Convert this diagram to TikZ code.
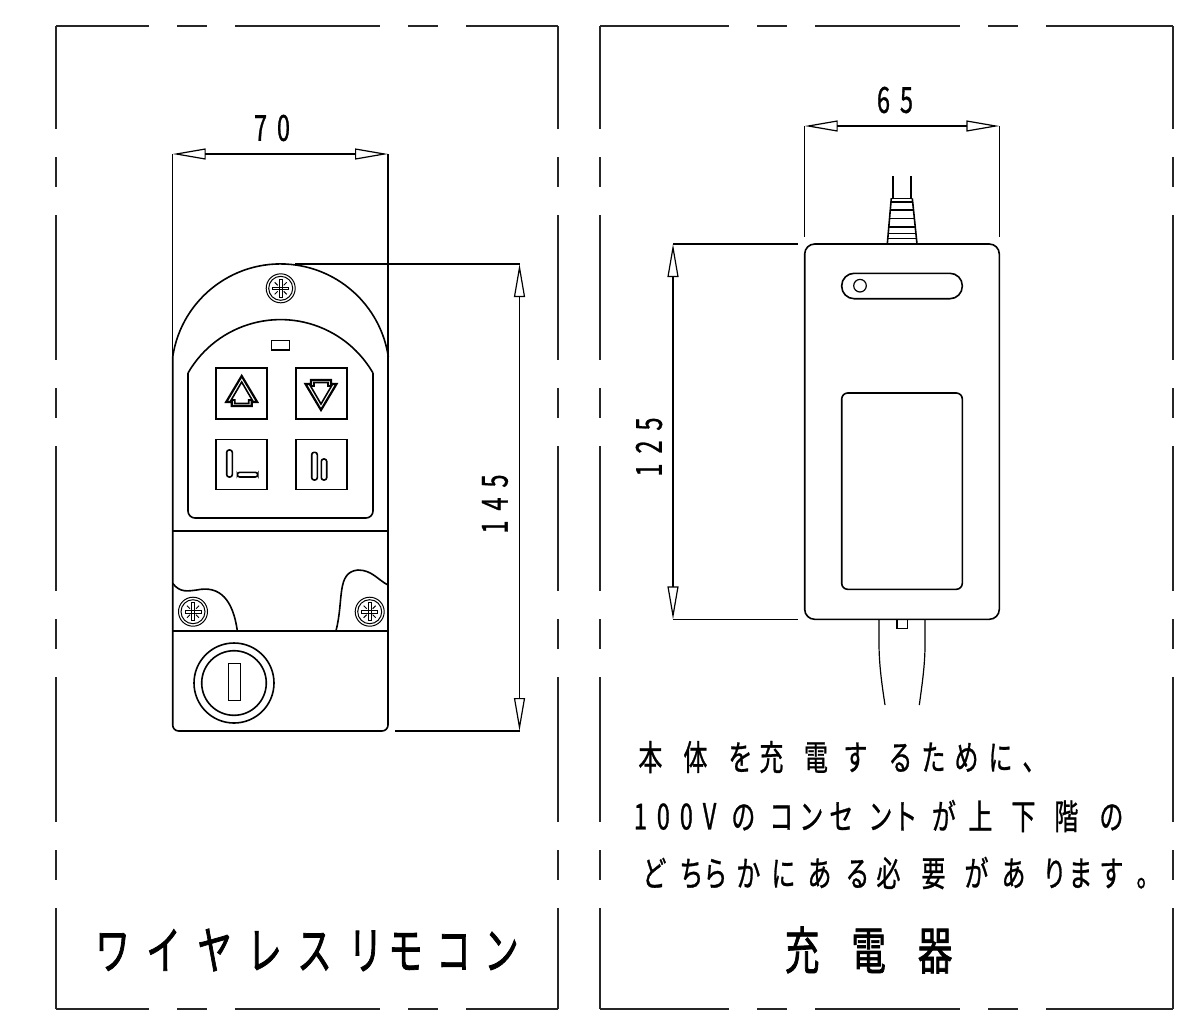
\documentclass[tikz,border=0pt]{standalone}
\usepackage{fontspec}
\usepackage{xcolor}
\usetikzlibrary{arrows.meta}
\newfontfamily\cjk[FakeStretch=.686,FakeBold=0.8]{Noto Sans CJK JP}
\newfontfamily\cjktitle[FakeStretch=.676,FakeBold=1.4]{Noto Sans CJK JP}
\newfontfamily\dimfont[FakeStretch=.65,FakeBold=0.8]{Noto Sans CJK JP}
\newcommand{\kk}[1]{\kern #1\dimexpr 0.5pt\relax}
\tikzset{
	frameline/.style={line width=0.95pt,color=black!85,dash pattern=on 72.5pt off 14pt on 15pt off 14pt},
	bodyline/.style={line width=0.8pt},
	thinline/.style={line width=0.6pt},
	dimarrow/.style={line width=0.6pt,{Triangle[open,length=16.5pt,width=5.5pt]}-{Triangle[open,length=16.5pt,width=5.5pt]}},
	dimtext/.style={font=\dimfont\fontsize{18}{18}\selectfont,inner sep=0pt},
	notetext/.style={font=\cjk\fontsize{17.5}{17.5}\selectfont,inner sep=0pt,anchor=west},
	titletext/.style={font=\cjktitle\fontsize{25.5}{25.5}\selectfont,inner sep=0pt,anchor=west},
}
% cross-head screw
\newcommand{\screwmark}[2]{
	\begin{scope}[shift={(#1,#2)},line width=0.5pt]
		\draw (0,0) circle[radius=14.5];
		\draw (0,0) circle[radius=12];
		\draw (-1.3,-9) rectangle (1.3,9);
		\draw (-8,-1.3) rectangle (8,1.3);
		\draw (-6,-6) -- (-3,-3) (6,-6) -- (3,-3) (-6,6) -- (-3,3) (6,6) -- (3,3);
	\end{scope}
}
% arrow on a button, #3 = 1 up, -1 down
\newcommand{\arrowmark}[3]{
	\begin{scope}[shift={(#1,#2)},yscale=#3,line width=1.1pt]
		\draw (0,-17) -- (15.5,9) -- (10,9) -- (10,13) -- (-10,13) -- (-10,9) -- (-15.5,9) -- cycle;
		\draw[bodyline] (0,-11) -- (10.5,7) -- (7,7) -- (7,10.5) -- (-7,10.5) -- (-7,7) -- (-10.5,7) -- cycle;
	\end{scope}
}
\begin{document}
\begin{tikzpicture}[x=0.5pt,y=-0.5pt]
	\useasboundingbox (0,0) rectangle (1177,1013);
	% frames
	\foreach \xa/\xb/\ph in {56/558/26pt,600/1173/8pt}{
		\draw[frameline,dash phase=\ph] (\xa,26) -- (\xb,26);
		\draw[frameline,dash phase=\ph] (\xa,1009) -- (\xb,1009);
		\draw[frameline,dash phase=21pt] (\xa,26) -- (\xa,1009);
		\draw[frameline,dash phase=21pt] (\xb,26) -- (\xb,1009);
	}
	% remote
	\draw[bodyline] (172.7,357) arc[start angle=-171.6,end angle=-8.4,radius=109];
	\draw[bodyline,rounded corners=3pt] (172.7,357) -- (172.7,731) -- (388,731) -- (388,357);
	\draw[bodyline] (172.7,531) -- (388,531);
	\draw[bodyline] (172.7,631) -- (388,631);
	\draw[bodyline,rounded corners=3.5pt] (188,373) -- (188,518) -- (373,518) -- (373,373);
	\draw[bodyline] (188,373) arc[start angle=-150,end angle=-30,radius=106.8];
	\draw[thinline] (271.7,340.7) rectangle (289.3,350);
	\draw[bodyline] (215.7,368) rectangle (266.7,419);
	\draw[bodyline] (296,368) rectangle (346.7,419);
	\draw[bodyline] (215.7,439.3) rectangle (266.7,489.3);
	\draw[bodyline] (296,439.3) rectangle (346.7,489.3);
	\arrowmark{241.7}{393}{1}
	\arrowmark{321}{393}{-1}
	\draw[bodyline,rounded corners=1.2pt] (226.7,450) rectangle (232.3,477);
	\draw[bodyline,rounded corners=1.2pt] (237.3,472.3) rectangle (257.7,477);
	\draw[bodyline,rounded corners=1.2pt] (311.7,452.3) rectangle (317.3,480);
	\draw[bodyline,rounded corners=1.2pt] (321.3,459) rectangle (326.7,480);
	\screwmark{280.7}{288.3}
	\screwmark{193}{611.7}
	\screwmark{369.7}{611.7}
	\draw[bodyline] (172.7,583.3) .. controls (180,593) and (188,591) .. (196.7,590) .. controls (220,585) and (233,600) .. (237.3,630.7);
	\draw[bodyline] (336,630.7) .. controls (344,600) and (336,572) .. (358,570) .. controls (372,570) and (378,580) .. (388,585);
	\draw[bodyline] (234,683) circle[radius=40];
	\draw[bodyline] (234,683) circle[radius=32.3];
	\draw[thinline] (228.7,663.3) rectangle (240.7,700.7);
	% dimensions of the remote
	\coordinate (w70a) at (172.7,154);
	\coordinate (w70b) at (388,154);
	\coordinate (h145a) at (519.5,264);
	\coordinate (h145b) at (519.5,731);
	\draw[thinline] (w70a) -- (172.7,357);
	\draw[thinline] (w70b) -- (388,357);
	\draw[thinline] (295,264) -- (h145a);
	\draw[thinline] (395,731) -- (h145b);
	\draw[dimarrow] (w70a) -- (w70b);
	\draw[dimarrow] (h145a) -- (h145b);
	\node[dimtext] (label70) at (272,128) {7\kk{10}0};
	\node[dimtext,rotate=90] (label145) at (495,504) {1\kk{10}4\kk{10}5};
	% charger
	\draw[bodyline] (892.7,176) -- (892.7,199);
	\draw[bodyline] (911,176) -- (911,199);
	\draw[bodyline] (891.3,198.3) -- (887.3,244);
	\draw[bodyline] (912.3,198.3) -- (917,244);
	\foreach \yy/\xl/\xr in {198.3/891.3/912.3,201.7/891/912.6,210/890.3/913.4,218.3/889.6/914.2,226.7/888.9/915,233.3/888.2/915.8,238.3/887.8/916.4}{
		\draw[bodyline] (\xl,\yy) -- (\xr,\yy);
	}
	\draw[bodyline,rounded corners=5pt] (804.7,244) rectangle (999.3,619.3);
	\draw[bodyline,rounded corners=3pt] (841.7,393) rectangle (962.3,589.3);
	\draw[bodyline,rounded corners=6.2pt] (841.7,273.3) rectangle (962.3,298.7);
	\draw[thinline] (860,285.7) circle[radius=6.3];
	\draw[thinline] (897,619.3) rectangle (907.3,628.3);
	\draw[thinline] (879,619.3) -- (879,643) .. controls (879,665) and (882,685) .. (885,705);
	\draw[thinline] (925,619.3) -- (925,645) .. controls (925,665) and (922,685) .. (919.3,705);
	% dimensions of the charger
	\coordinate (w65a) at (804.7,126);
	\coordinate (w65b) at (999.3,126);
	\coordinate (h125a) at (673,244);
	\coordinate (h125b) at (673,619.3);
	\draw[thinline] (w65a) -- (804.7,237);
	\draw[thinline] (w65b) -- (999.3,237);
	\draw[thinline] (h125a) -- (798,244);
	\draw[thinline] (h125b) -- (798,619.3);
	\draw[dimarrow] (w65a) -- (w65b);
	\draw[dimarrow] (h125a) -- (h125b);
	\node[dimtext] (label65) at (895,100) {6\kk{10}5};
	\node[dimtext,rotate=90] (label125) at (649,447) {1\kk{10}2\kk{10}5};
	% notes and titles
	\node[notetext] (note1) at (638,757) {本\kk{21}体\kk{21}を\kk{7}充\kk{20.5}電\kk{15.5}す\kk{21}る\kk{9}た\kk{9}め\kk{10}に\kk{10}、};
	\node[notetext] (note2) at (633.5,816) {{\dimfont\fontsize{18}{18}\selectfont 1\kk{10}0\kk{10}0\kk{10}V}\kk{15}の\kk{14}コ\kk{6}ン\kk{6}セ\kk{15}ン\kk{1}ト\kk{14.5}が\kk{12.5}上\kk{19}下\kk{19}階\kk{21}の};
	\node[notetext] (note3) at (642,873) {ど\kk{13}ち\kk{0}ら\kk{9}か\kk{11}に\kk{12}あ\kk{14}る\kk{7}必\kk{21}要\kk{19}が\kk{13}あ\kk{17}り\kk{2}ま\kk{7}す\kk{13}。};
	\node[titletext] (titleremote) at (95,950) {ワ\kk{16.5}イ\kk{16.5}ヤ\kk{15.5}レ\kk{15.5}ス\kk{16.5}リ\kk{5.5}モ\kk{13.5}コ\kk{13.5}ン};
	\node[titletext] (titlecharger) at (784.5,950) {充\kk{32}電\kk{32}器};
\end{tikzpicture}
\end{document}
